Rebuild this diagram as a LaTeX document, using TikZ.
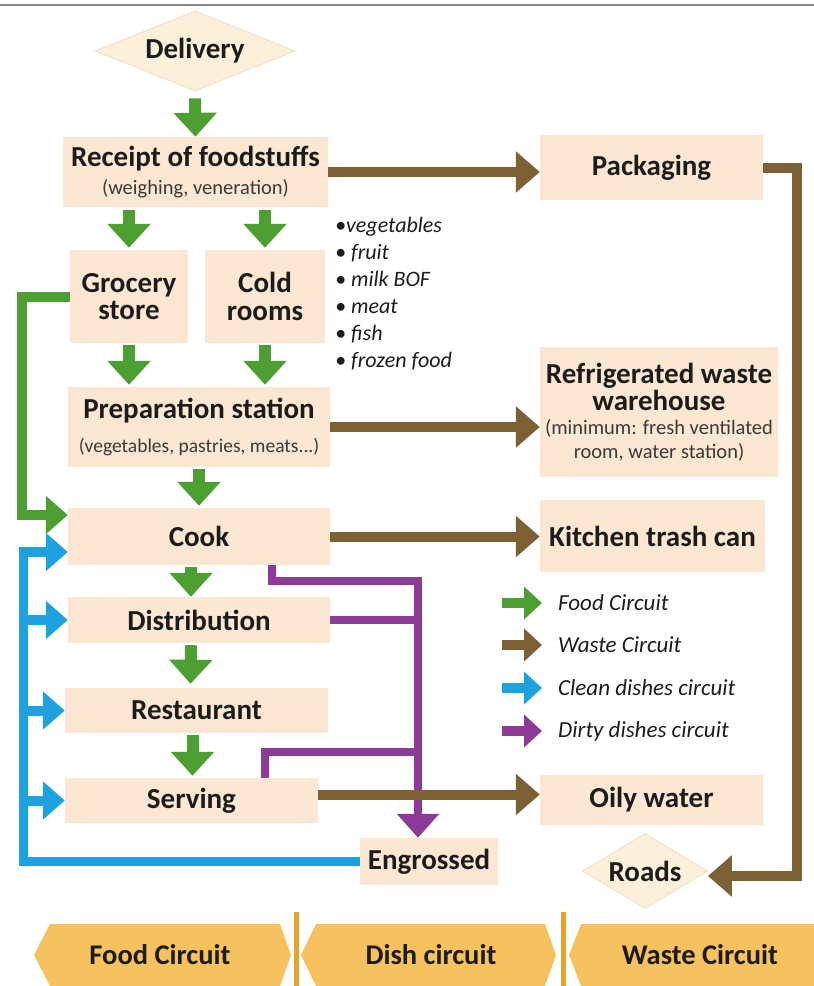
\documentclass[tikz,border=0pt]{standalone}
\usepackage{fontspec}
\setmainfont{Carlito}
\usetikzlibrary{arrows.meta,positioning,shapes.geometric,calc}
\definecolor{boxfill}   {HTML}{FCE8D2}
\definecolor{diafill}   {HTML}{FDF0DB}
\definecolor{diaedge}   {HTML}{F1DEC2}
\definecolor{ink}       {HTML}{1C1C1C}
\definecolor{subink}    {HTML}{3A3A3A}
\definecolor{framegray} {HTML}{8A8A8A}
\definecolor{foodgreen} {HTML}{4E9F32}
\definecolor{wastebrown}{HTML}{7D6033}
\definecolor{cleanblue} {HTML}{1DA1DF}
\definecolor{dirtypurple}{HTML}{8C3B96}
\definecolor{bandgold}  {HTML}{F6C15F}
\definecolor{bandline}  {HTML}{E5A42A}
\newcommand{\titlesz}{\fontsize{29}{27.5}\selectfont\bfseries}
\newcommand{\subsz}{\fontsize{20.5}{24}\selectfont\mdseries\color{subink}}
\newcommand{\notesz}{\fontsize{22}{27}\selectfont\itshape}
\tikzset{
  stepbox/.style  ={fill=boxfill, inner sep=0pt, align=center,
                    text=ink, font=\titlesz},
  endpoint/.style ={diamond, fill=diafill, draw=diaedge, line width=0.8pt,
                    inner sep=0pt, shape aspect=2, text=ink, font=\titlesz},
  listtext/.style ={align=left, inner sep=0pt, text=ink, font=\notesz},
  keytext/.style  ={anchor=west, inner sep=0pt, text=ink,
                    font=\fontsize{23}{26}\selectfont\itshape},
  bandtext/.style ={inner sep=0pt, text=ink, font=\fontsize{28.5}{30}\selectfont\bfseries},
  foodarr/.style  ={-{Triangle[length=24pt,width=42pt]}, line width=12pt, draw=foodgreen},
  sidearr/.style  ={-{Triangle[length=22pt,width=37pt]}, line width=10pt, line join=miter},
  wastearr/.style ={-{Triangle[length=24pt,width=40pt]}, line width=10pt,
                    draw=wastebrown, line join=miter},
  dirtyline/.style={line width=8pt, draw=dirtypurple, line join=miter},
  dirtyarr/.style ={-{Triangle[length=24pt,width=41pt]}, line width=8pt, draw=dirtypurple},
  keyarr/.style   ={-{Triangle[length=18pt,width=32pt]}, line width=10pt},
}
\begin{document}
\begin{tikzpicture}[x=1pt,y=-1pt]
  \useasboundingbox (0,0) rectangle (814,986);
  \fill[white] (0,0) rectangle (814,986);
  \draw[framegray, line width=1.2pt] (0,5) -- (814,5);

  % food circuit
  \node[endpoint, minimum width=200pt, minimum height=80pt] (delivery) at (195,51) {Delivery};
  \node[stepbox, minimum width=265pt, minimum height=70pt] (receipt) at (195.5,172)
    {Receipt of foodstuffs\\[1pt]{\subsz (weighing, veneration)}};
  \node[stepbox, minimum width=118pt, minimum height=93pt] (grocery) at (129,296.5) {Grocery\\store};
  \node[stepbox, minimum width=120pt, minimum height=93pt] (cold) at (265,296.5) {Cold\\rooms};
  \node[listtext, anchor=north west] (foods) at (335,217)
    {•vegetables\\• fruit\\• milk BOF\\• meat\\• fish\\• frozen food};
  \node[stepbox, minimum width=262pt, minimum height=80pt] (prep) at (199,427)
    {Preparation station\\[7pt]{\fontsize{19.5}{22}\selectfont\mdseries\color{subink}(vegetables, pastries, meats...)}};
  \node[stepbox, minimum width=262pt, minimum height=57pt] (cook) at (199,536.5) {Cook};
  \node[stepbox, minimum width=262pt, minimum height=46pt] (distrib) at (199,620) {Distribution};
  \node[stepbox, minimum width=263pt, minimum height=45pt] (restaurant) at (196.5,710.5) {Restaurant};
  \node[stepbox, minimum width=253pt, minimum height=45pt] (serving) at (191.5,800.5) {Serving};
  \node[stepbox, minimum width=138pt, minimum height=47pt] (engrossed) at (429,861.5) {Engrossed};

  % waste circuit
  \node[stepbox, minimum width=223pt, minimum height=65pt] (packaging) at (651.5,167.5) {Packaging};
  \node[stepbox, minimum width=238pt, minimum height=130pt] (refrig) at (659,412)
    {Refrigerated waste\\warehouse\\[-4pt]{\subsz (minimum: fresh ventilated}\\[-3pt]{\subsz room, water station)}};
  \node[stepbox, minimum width=225pt, minimum height=72pt] (trash) at (652.5,536) {Kitchen trash can};
  \node[stepbox, minimum width=223pt, minimum height=50pt] (oily) at (651.5,800) {Oily water};
  \node[endpoint, minimum width=125pt, minimum height=75pt] (roads) at (645,871) {Roads};

  % green arrows
  \draw[foodarr, shorten <=7pt] (delivery.south) -- (receipt.north);
  \draw[foodarr, shorten <=3pt, shorten >=2pt] (receipt.south -| grocery) -- (grocery.north);
  \draw[foodarr, shorten <=3pt, shorten >=2pt] (receipt.south -| cold) -- (cold.north);
  \draw[foodarr, shorten <=2pt, shorten >=2pt] (grocery.south) -- (prep.north -| grocery);
  \draw[foodarr, shorten <=2pt, shorten >=2pt] (cold.south) -- (prep.north -| cold);
  \draw[foodarr, shorten <=2pt, shorten >=2pt] (prep.south) -- (cook.north);
  \draw[foodarr, shorten <=2pt] ([xshift=-8pt]cook.south) -- ([xshift=-8pt]distrib.north);
  \draw[foodarr, shorten <=2pt, shorten >=4pt] ([xshift=-8pt]distrib.south) -- ([xshift=-6pt]restaurant.north);
  \draw[foodarr, shorten <=2pt, shorten >=2pt] ([xshift=-4pt]restaurant.south) -- ([xshift=1pt]serving.north);
  \coordinate (gturn) at (22,515);
  \draw[sidearr, draw=foodgreen] (grocery.west) -- (grocery.west -| gturn) -- (gturn) -- (gturn -| cook.west);

  % clean dishes
  \coordinate (bturn) at (23,552);
  \draw[cleanblue, line width=9pt, line join=miter] (engrossed.west) -- (engrossed.west -| bturn) -- ([yshift=4.5pt]bturn);
  \draw[sidearr, draw=cleanblue] ([xshift=-4.5pt]bturn) -- (bturn -| cook.west);
  \draw[sidearr, draw=cleanblue] (bturn |- distrib) -- (distrib.west);
  \draw[sidearr, draw=cleanblue] (bturn |- restaurant) -- (restaurant.west);
  \draw[sidearr, draw=cleanblue] (bturn |- serving) -- (serving.west);

  % dirty dishes
  \coordinate (pjoin) at (418,581);
  \coordinate (pserv) at (418,752);
  \draw[dirtyline] ([xshift=73pt]cook.south) |- (pjoin);
  \draw[dirtyline] (distrib.east) -- (distrib.east -| pjoin);
  \draw[dirtyline] ([xshift=73.5pt]serving.north) |- (pserv);
  \draw[dirtyarr] ([yshift=4pt]pjoin) -- (engrossed.north -| pjoin);

  % brown arrows
  \draw[wastearr] (receipt.east) -- (receipt.east -| packaging.west);
  \draw[wastearr] (prep.east) -- (prep.east -| refrig.west);
  \draw[wastearr] (cook.east) -- (cook.east -| trash.west);
  \draw[wastearr] ([yshift=6pt]serving.east) -- ([yshift=6pt]serving.east -| oily.west);
  \coordinate (wturn) at (797,876);
  \draw[wastearr] (packaging.east) -| (wturn) -- (wturn -| roads.east);

  % key
  \node[keytext] (kfood)  at (558,603) {Food Circuit};
  \node[keytext] (kwaste) at (558,645) {Waste Circuit};
  \node[keytext] (kclean) at (558,688) {Clean dishes circuit};
  \node[keytext] (kdirty) at (558,731) {Dirty dishes circuit};
  \draw[keyarr, draw=foodgreen]   ([xshift=-56pt]kfood.west)  -- ([xshift=-16pt]kfood.west);
  \draw[keyarr, draw=wastebrown]  ([xshift=-56pt]kwaste.west) -- ([xshift=-16pt]kwaste.west);
  \draw[keyarr, draw=cleanblue]   ([xshift=-56pt]kclean.west) -- ([xshift=-16pt]kclean.west);
  \draw[keyarr, draw=dirtypurple] ([xshift=-56pt]kdirty.west) -- ([xshift=-16pt]kdirty.west);

  % bottom band
  \fill[bandgold] (34,955) -- (50,924) -- (280,924) -- (291,955) -- (280,986) -- (50,986) -- cycle;
  \fill[bandgold] (301,955) -- (316,924) -- (545,924) -- (556,955) -- (545,986) -- (316,986) -- cycle;
  \fill[bandgold] (569,955) -- (581,924) -- (814,924) -- (814,986) -- (581,986) -- cycle;
  \draw[bandline, line width=5pt] (296,912) -- (296,986);
  \draw[bandline, line width=5pt] (563,912) -- (563,986);
  \node[bandtext] (bfood)  at (160,955) {Food Circuit};
  \node[bandtext] (bdish)  at (431,955) {Dish circuit};
  \node[bandtext] (bwaste) at (700,955) {Waste Circuit};
\end{tikzpicture}
\end{document}
